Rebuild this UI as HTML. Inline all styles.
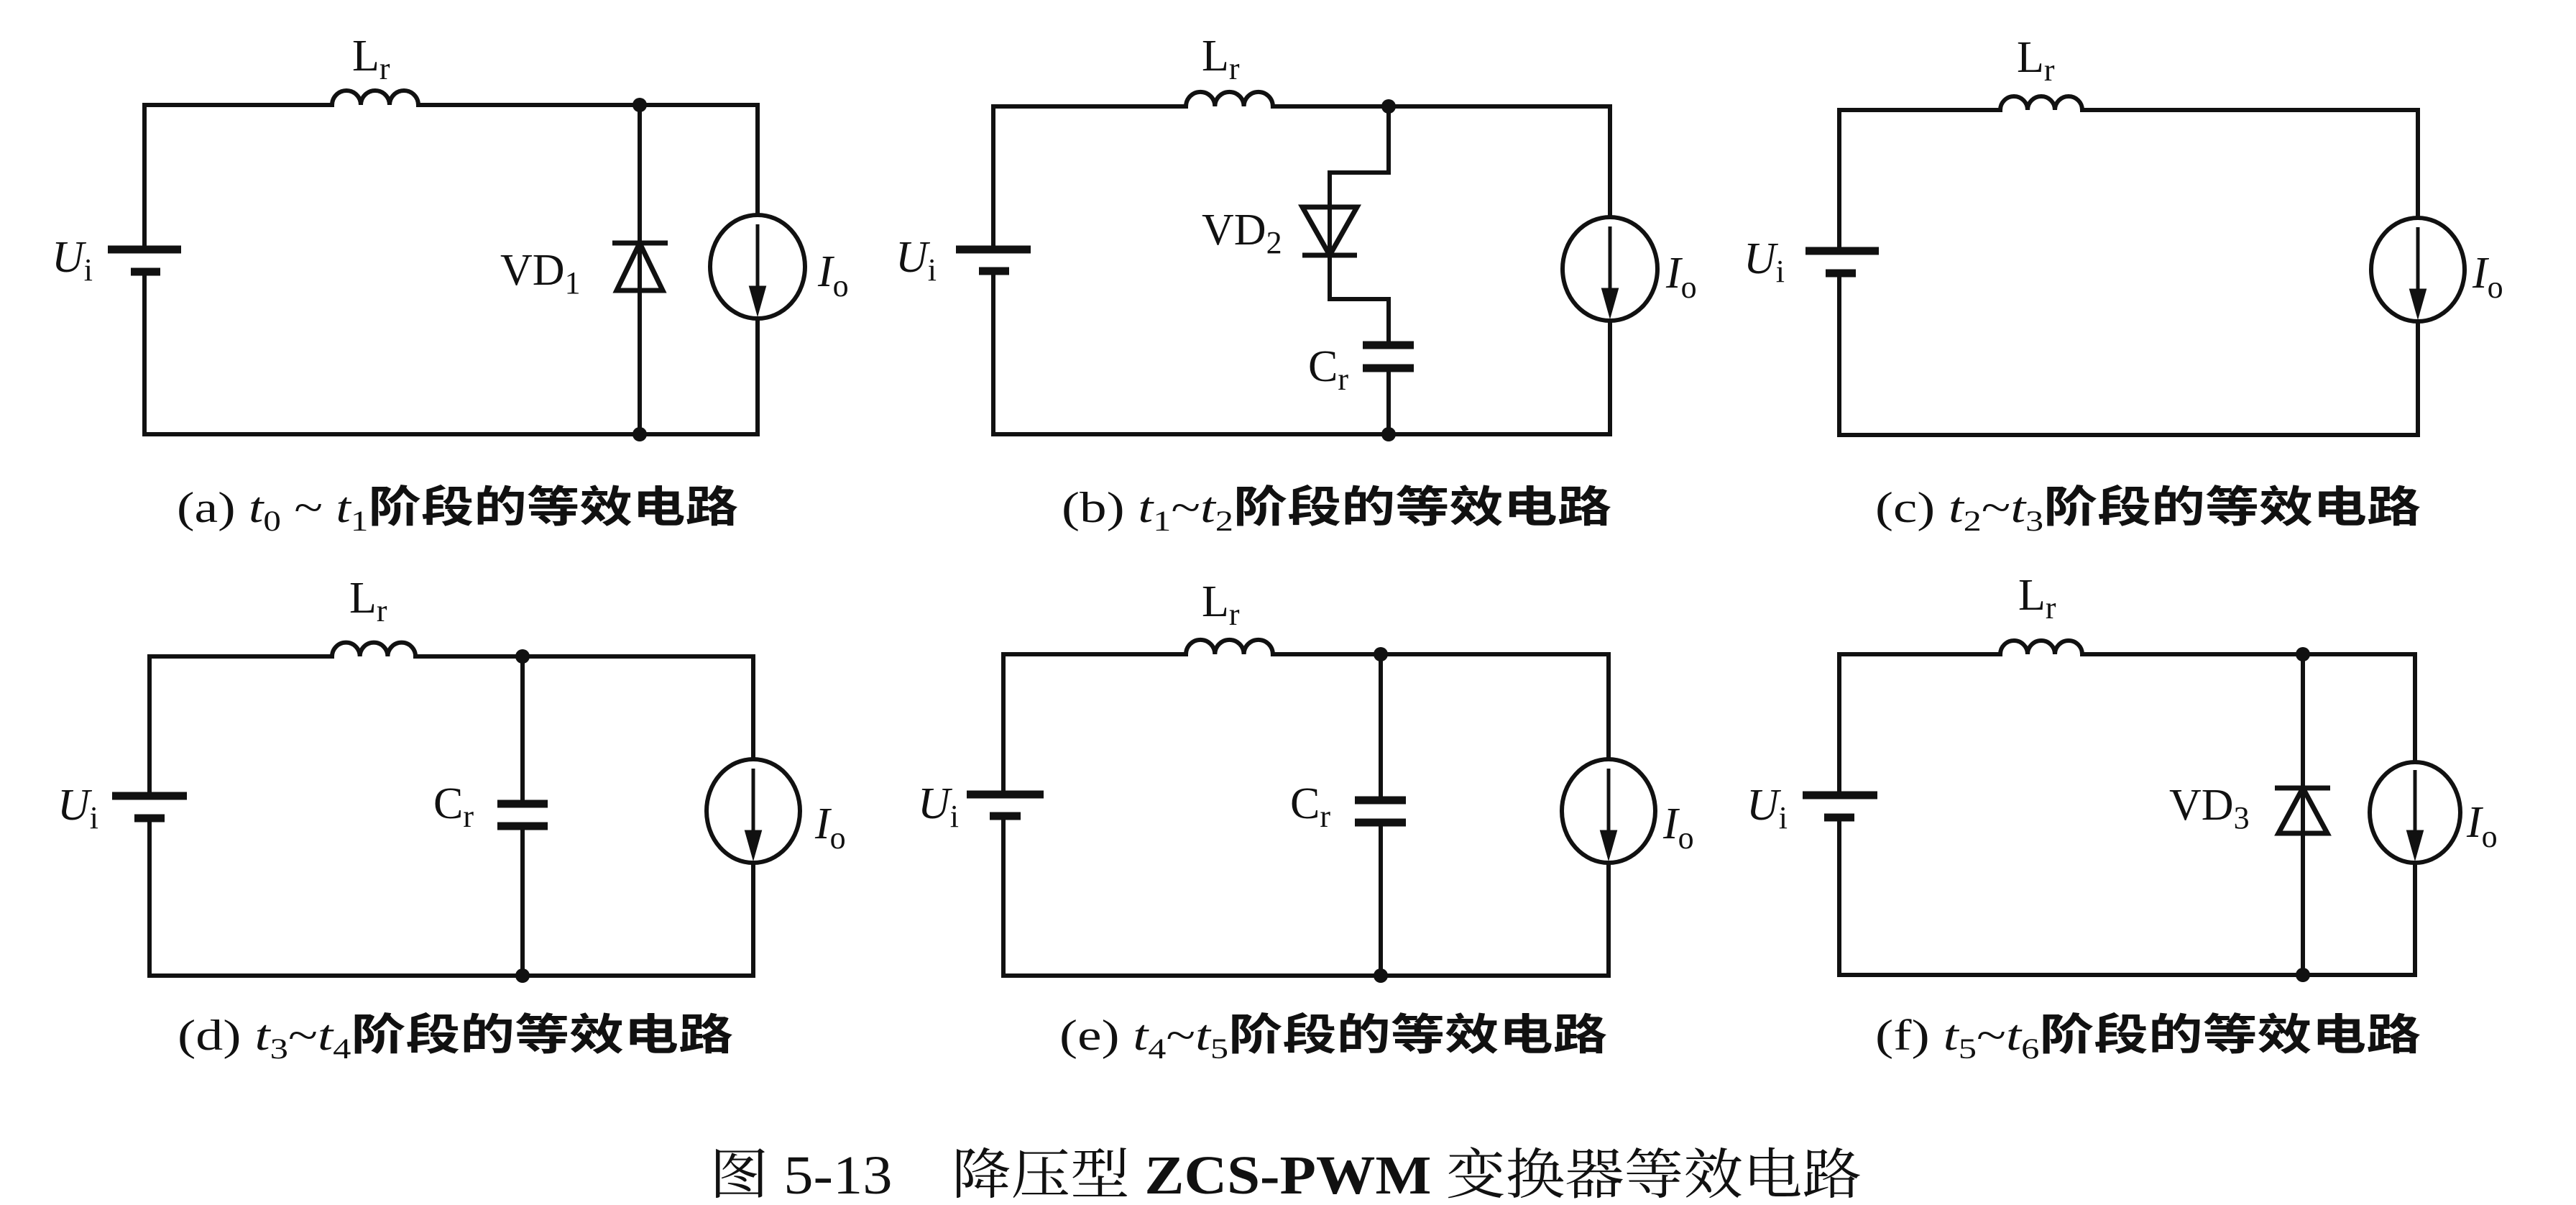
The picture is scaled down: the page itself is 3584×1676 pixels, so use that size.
<!DOCTYPE html>
<html><head><meta charset="utf-8"><style>
html,body{margin:0;padding:0;background:#fff;}
svg{display:block;}
text{font-family:"Liberation Serif","Noto Serif CJK SC","Noto Sans CJK SC",serif;fill:#111;}
.cj{font-family:"Liberation Serif","Noto Sans CJK SC",sans-serif;font-weight:bold;}
</style></head><body>
<svg width="3584" height="1676" viewBox="0 0 3584 1676" xmlns="http://www.w3.org/2000/svg">
<g stroke="#111" stroke-width="6" fill="none" stroke-linecap="square">
<!-- (a) -->
<path d="M201 347 V146 H462 M582 146 H1054 V299 M1054 443 V604 H201 V378"/>
<path d="M462 146 a20 20 0 0 1 40 0 a20 20 0 0 1 40 0 a20 20 0 0 1 40 0"/>
<path d="M890 146 V604"/>
<ellipse cx="1054" cy="371" rx="66" ry="72"/>
<!-- (b) -->
<path d="M1382 347 V148 H1650 M1771 148 H2240 V302 M2240 446 V604 H1382 V377"/>
<path d="M1650 148 a20 20 0 0 1 40.3 0 a20 20 0 0 1 40.3 0 a20 20 0 0 1 40.3 0"/>
<path d="M1932 148 V240 H1850 V416 H1932 V480 M1932 512 V604"/>
<ellipse cx="2240" cy="374" rx="66" ry="72"/>
<!-- (c) -->
<path d="M2559 349 V153 H2783 M2897 153 H3364 V303 M3364 447 V605 H2559 V380"/>
<path d="M2783 153 a19 19 0 0 1 38 0 a19 19 0 0 1 38 0 a19 19 0 0 1 38 0"/>
<ellipse cx="3364" cy="375" rx="65" ry="72"/>
<!-- (d) -->
<path d="M208 1107 V913 H462 M578 913 H1048 V1056 M1048 1200 V1357 H208 V1138"/>
<path d="M462 913 a19.3 19.3 0 0 1 38.7 0 a19.3 19.3 0 0 1 38.7 0 a19.3 19.3 0 0 1 38.7 0"/>
<path d="M727 913 V1118 M727 1149 V1357"/>
<ellipse cx="1048" cy="1128" rx="65" ry="72"/>
<!-- (e) -->
<path d="M1396 1105 V910 H1650 M1771 910 H2238 V1056 M2238 1200 V1357 H1396 V1135"/>
<path d="M1650 910 a20 20 0 0 1 40.3 0 a20 20 0 0 1 40.3 0 a20 20 0 0 1 40.3 0"/>
<path d="M1921 910 V1113 M1921 1144 V1357"/>
<ellipse cx="2238" cy="1128" rx="65" ry="72"/>
<!-- (f) -->
<path d="M2559 1106 V910 H2783 M2897 910 H3360 V1060 M3360 1200 V1356 H2559 V1137"/>
<path d="M2783 910 a19 19 0 0 1 38 0 a19 19 0 0 1 38 0 a19 19 0 0 1 38 0"/>
<path d="M3204 910 V1356"/>
<ellipse cx="3360" cy="1130" rx="63" ry="70"/>
</g>
<g stroke="#111" stroke-width="11" fill="none">
<path d="M150 347 H252 M182 378 H223"/>
<path d="M1330 347 H1434 M1362 377 H1404"/>
<path d="M2512 349 H2614 M2540 380 H2582"/>
<path d="M156 1107 H260 M187 1138 H229"/>
<path d="M1345 1105 H1452 M1377 1135 H1420"/>
<path d="M2508 1106 H2612 M2538 1137 H2580"/>
<path d="M1896 480 H1967 M1896 512 H1967"/>
<path d="M692 1118 H762 M692 1149 H762"/>
<path d="M1885 1113 H1956 M1885 1144 H1956"/>
</g>
<g stroke="#111" stroke-width="7" fill="none" stroke-linejoin="miter">
<path d="M852 338 H929 M890 338 L858 404 H922 Z"/>
<path d="M1812 288 H1888 L1850 355 Z M1812 355 H1888"/>
<path d="M3165 1096 H3242 M3204 1096 L3170 1159 H3238 Z"/>
</g>
<g stroke="#111" stroke-width="5" fill="#111">
<path d="M1054 312 V415" /><path d="M1045 400 L1054 432 L1063 400 Z"/>
<path d="M2240 315 V418" /><path d="M2231 403 L2240 435 L2249 403 Z"/>
<path d="M3364 316 V419" /><path d="M3355 404 L3364 436 L3373 404 Z"/>
<path d="M1048 1069 V1172" /><path d="M1039 1157 L1048 1189 L1057 1157 Z"/>
<path d="M2238 1069 V1172" /><path d="M2229 1157 L2238 1189 L2247 1157 Z"/>
<path d="M3360 1071 V1172" /><path d="M3351 1157 L3360 1189 L3369 1157 Z"/>
</g>
<g fill="#111">
<circle cx="890" cy="146" r="10"/><circle cx="890" cy="604" r="10"/>
<circle cx="1932" cy="148" r="10"/><circle cx="1932" cy="604" r="10"/>
<circle cx="727" cy="913" r="10"/><circle cx="727" cy="1357" r="10"/>
<circle cx="1921" cy="910" r="10"/><circle cx="1921" cy="1357" r="10"/>
<circle cx="3204" cy="910" r="10"/><circle cx="3204" cy="1356" r="10"/>
</g>
<g font-size="62">
<text x="490" y="98">L<tspan font-size="44" dy="12">r</tspan></text>
<text x="72" y="378"><tspan font-style="italic">U</tspan><tspan font-size="44" dy="12">i</tspan></text>
<text x="696" y="396">VD<tspan font-size="44" dy="12">1</tspan></text>
<text x="1138" y="398"><tspan font-style="italic">I</tspan><tspan font-size="44" dy="14">o</tspan></text>

<text x="1672" y="98">L<tspan font-size="44" dy="12">r</tspan></text>
<text x="1246" y="378"><tspan font-style="italic">U</tspan><tspan font-size="44" dy="12">i</tspan></text>
<text x="1672" y="340">VD<tspan font-size="44" dy="12">2</tspan></text>
<text x="1820" y="530">C<tspan font-size="44" dy="12">r</tspan></text>
<text x="2318" y="400"><tspan font-style="italic">I</tspan><tspan font-size="44" dy="14">o</tspan></text>

<text x="2806" y="100">L<tspan font-size="44" dy="12">r</tspan></text>
<text x="2426" y="380"><tspan font-style="italic">U</tspan><tspan font-size="44" dy="12">i</tspan></text>
<text x="3440" y="400"><tspan font-style="italic">I</tspan><tspan font-size="44" dy="14">o</tspan></text>

<text x="486" y="852">L<tspan font-size="44" dy="12">r</tspan></text>
<text x="80" y="1140"><tspan font-style="italic">U</tspan><tspan font-size="44" dy="12">i</tspan></text>
<text x="603" y="1138">C<tspan font-size="44" dy="12">r</tspan></text>
<text x="1134" y="1166"><tspan font-style="italic">I</tspan><tspan font-size="44" dy="14">o</tspan></text>

<text x="1672" y="857">L<tspan font-size="44" dy="12">r</tspan></text>
<text x="1277" y="1138"><tspan font-style="italic">U</tspan><tspan font-size="44" dy="12">i</tspan></text>
<text x="1795" y="1138">C<tspan font-size="44" dy="12">r</tspan></text>
<text x="2314" y="1166"><tspan font-style="italic">I</tspan><tspan font-size="44" dy="14">o</tspan></text>

<text x="2808" y="848">L<tspan font-size="44" dy="12">r</tspan></text>
<text x="2430" y="1140"><tspan font-style="italic">U</tspan><tspan font-size="44" dy="12">i</tspan></text>
<text x="3018" y="1140">VD<tspan font-size="44" dy="12">3</tspan></text>
<text x="3432" y="1164"><tspan font-style="italic">I</tspan><tspan font-size="44" dy="14">o</tspan></text>
</g>
<g font-size="60">
<text x="246" y="726" textLength="781" lengthAdjust="spacingAndGlyphs">(a) <tspan font-style="italic">t</tspan><tspan font-size="40" dy="12">0</tspan><tspan dy="-12"> ~ </tspan><tspan font-style="italic">t</tspan><tspan font-size="40" dy="12">1</tspan><tspan dy="-12" class="cj">阶段的等效电路</tspan></text>
<text x="1477" y="726" textLength="765" lengthAdjust="spacingAndGlyphs">(b) <tspan font-style="italic">t</tspan><tspan font-size="40" dy="12">1</tspan><tspan dy="-12">~</tspan><tspan font-style="italic">t</tspan><tspan font-size="40" dy="12">2</tspan><tspan dy="-12" class="cj">阶段的等效电路</tspan></text>
<text x="2609" y="726" textLength="759" lengthAdjust="spacingAndGlyphs">(c) <tspan font-style="italic">t</tspan><tspan font-size="40" dy="12">2</tspan><tspan dy="-12">~</tspan><tspan font-style="italic">t</tspan><tspan font-size="40" dy="12">3</tspan><tspan dy="-12" class="cj">阶段的等效电路</tspan></text>
<text x="247" y="1460" textLength="773" lengthAdjust="spacingAndGlyphs">(d) <tspan font-style="italic">t</tspan><tspan font-size="40" dy="12">3</tspan><tspan dy="-12">~</tspan><tspan font-style="italic">t</tspan><tspan font-size="40" dy="12">4</tspan><tspan dy="-12" class="cj">阶段的等效电路</tspan></text>
<text x="1474" y="1460" textLength="762" lengthAdjust="spacingAndGlyphs">(e) <tspan font-style="italic">t</tspan><tspan font-size="40" dy="12">4</tspan><tspan dy="-12">~</tspan><tspan font-style="italic">t</tspan><tspan font-size="40" dy="12">5</tspan><tspan dy="-12" class="cj">阶段的等效电路</tspan></text>
<text x="2609" y="1460" textLength="759" lengthAdjust="spacingAndGlyphs">(f) <tspan font-style="italic">t</tspan><tspan font-size="40" dy="12">5</tspan><tspan dy="-12">~</tspan><tspan font-style="italic">t</tspan><tspan font-size="40" dy="12">6</tspan><tspan dy="-12" class="cj">阶段的等效电路</tspan></text>
</g>
<text x="987" y="1660" font-size="76" textLength="1603" lengthAdjust="spacingAndGlyphs" style="font-family:'Liberation Serif','Noto Serif CJK SC',serif">图 5-13　降压型 <tspan font-weight="bold">ZCS-PWM</tspan> 变换器等效电路</text>
</svg>
</body></html>
